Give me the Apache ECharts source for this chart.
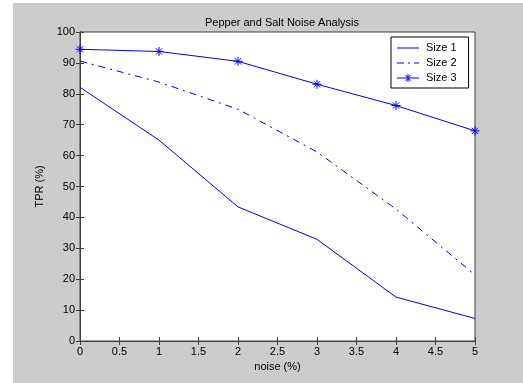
<!DOCTYPE html>
<html>
<head>
<meta charset="utf-8">
<script src="https://cdn.jsdelivr.net/npm/echarts@6/dist/echarts.min.js"></script>
<style>
  html, body { margin: 0; padding: 0; background: #ffffff; }
  #bg { position: absolute; left: 13px; top: 3px; width: 510px; height: 380px; background: #cccccc; }
  #chart { position: absolute; left: 0; top: 0; width: 523px; height: 383px; }
</style>
</head>
<body>
<div id="bg"></div>
<div id="chart"></div>
<script>
var noise = [0, 1, 2, 3, 4, 5];
var size1 = [82.1, 65, 43.4, 32.9, 14.2, 7.3];
var size2 = [90.6, 83.8, 75, 61.2, 42.7, 21.4];
var size3 = [94.4, 93.7, 90.5, 83.1, 76.2, 68];
var xTicks = [0, 0.5, 1, 1.5, 2, 2.5, 3, 3.5, 4, 4.5, 5];

var star = 'path://M0,-5L0,5M-5,0L5,0M-3.5,-3.5L3.5,3.5M-3.5,3.5L3.5,-3.5';
// legend icons: 22x12 box (tiny corner points keep the box), 1px bar in the middle
var iconSolid = 'path://M0,0L0.01,0L0,0.01Z M0,5.5H22V6.5H0Z M22,12L21.99,12L22,11.99Z';
var iconDashDot = 'path://M0,0L0.01,0L0,0.01Z M0,5.5H7V6.5H0Z M11,5.5H13V6.5H11Z M17,5.5H22V6.5H17Z M22,12L21.99,12L22,11.99Z';
var iconStar = 'path://M0,0L0.01,0L0,0.01Z M0,5.5H22V6.5H0Z M10.5,2H11.5V10H10.5Z' +
    ' M8,3L9,3L14,9L13,9Z M14,3L13,3L8,9L9,9Z M22,12L21.99,12L22,11.99Z';
var font = 'Liberation Sans';
var blue = '#0000ff';
var dashDot = [7, 5, 2, 5];

function pairs(vals) {
    return noise.map(function(x, i) { return [x, vals[i]]; });
}

var chartDom = document.getElementById('chart');
var myChart = echarts.init(chartDom);

var axisLine = { show: true, lineStyle: { color: '#404040', width: 1 } };
var tick = { show: true, inside: true, length: 4, lineStyle: { color: '#404040' } };

var option = {
    animation: false,
    backgroundColor: 'transparent',
    textStyle: { fontFamily: font },
    title: {
        text: 'Pepper and Salt Noise Analysis',
        left: 277,
        textAlign: 'center',
        top: 12,
        textStyle: { fontFamily: font, fontSize: 11, fontWeight: 'normal', color: '#000' }
    },
    legend: {
        orient: 'vertical',
        left: 391,
        top: 37,
        backgroundColor: '#fff',
        borderColor: '#000',
        borderWidth: 1,
        borderRadius: 0,
        padding: [5, 12, 4, 6],
        itemWidth: 22,
        itemHeight: 12,
        itemGap: 3,
        textStyle: { fontFamily: font, fontSize: 11, color: '#000', padding: [0, 0, 0, 2] },
        data: [
            { name: 'Size 1', icon: iconSolid, itemStyle: { color: blue, borderWidth: 0 } },
            { name: 'Size 2', icon: iconDashDot, itemStyle: { color: blue, borderWidth: 0 } },
            { name: 'Size 3', icon: iconStar, itemStyle: { color: blue, borderWidth: 0 } }
        ]
    },
    grid: {
        left: 80,
        top: 32,
        right: 48,
        bottom: 42,
        show: true,
        backgroundColor: '#fff',
        borderColor: '#404040',
        borderWidth: 1
    },
    xAxis: [{
        type: 'value',
        min: 0,
        max: 5,
        interval: 0.5,
        name: 'noise (%)',
        nameLocation: 'middle',
        nameGap: 20,
        nameTextStyle: { fontFamily: font, fontSize: 11, color: '#000' },
        axisLine: axisLine,
        axisTick: tick,
        splitLine: { show: false },
        axisLabel: {
            margin: 5,
            fontFamily: font,
            fontSize: 11,
            color: '#000',
            formatter: function(v) { return xTicks.indexOf(v) >= 0 ? String(v) : ''; }
        }
    }, {
        type: 'value',
        position: 'top',
        min: 0,
        max: 5,
        interval: 0.5,
        axisLine: axisLine,
        axisTick: tick,
        splitLine: { show: false },
        axisLabel: { show: false }
    }],
    yAxis: [{
        type: 'value',
        min: 0,
        max: 100,
        interval: 10,
        name: 'TPR (%)',
        nameLocation: 'middle',
        nameGap: 25,
        nameTextStyle: { fontFamily: font, fontSize: 11, color: '#000' },
        axisLine: axisLine,
        axisTick: tick,
        splitLine: { show: false },
        axisLabel: { margin: 5, fontFamily: font, fontSize: 11, color: '#000' }
    }, {
        type: 'value',
        position: 'right',
        min: 0,
        max: 100,
        interval: 10,
        axisLine: axisLine,
        axisTick: tick,
        splitLine: { show: false },
        axisLabel: { show: false }
    }],
    series: [{
        name: 'Size 1',
        type: 'line',
        data: pairs(size1),
        symbol: 'none',
        color: blue,
        lineStyle: { color: blue, width: 1 }
    }, {
        name: 'Size 2',
        type: 'line',
        data: pairs(size2),
        symbol: 'none',
        color: blue,
        lineStyle: { color: blue, width: 1, type: dashDot }
    }, {
        name: 'Size 3',
        type: 'line',
        data: pairs(size3),
        symbol: star,
        symbolSize: 9,
        color: blue,
        itemStyle: { color: 'none', borderColor: blue, borderWidth: 1 },
        lineStyle: { color: blue, width: 1 }
    }]
};

myChart.setOption(option);
</script>
</body>
</html>
